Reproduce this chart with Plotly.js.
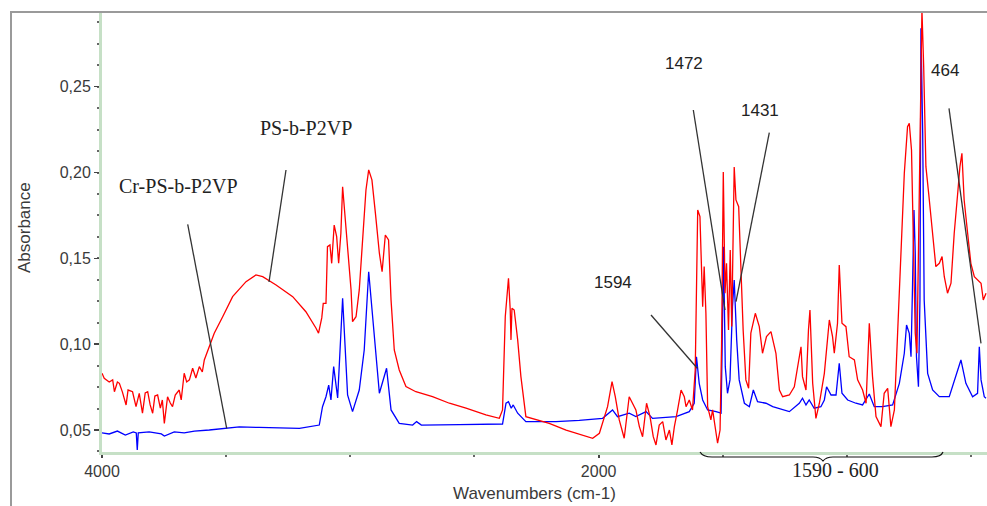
<!DOCTYPE html>
<html>
<head>
<meta charset="utf-8">
<script src="https://cdn.plot.ly/plotly-3.0.1.min.js"></script>
<style>html,body{margin:0;padding:0;background:#fff;}#chart{width:987px;height:506px;}</style>
</head>
<body>
<div id="chart"></div>
<script>
// Cr-PS-b-P2VP (blue)
const blueWn = [4000,3971,3938,3906,3874,3862,3858,3854,3810,3761,3749,3709,3669,3628,3568,3503,3447,3367,3286,3205,3125,3112,3098,3087,3078,3067,3051,3031,3011,2991,2964,2944,2926,2910,2883,2854,2836,2803,2749,2733,2714,2561,2400,2387,2373,2363,2352,2344,2326,2293,2172,2078,1984,1944,1924,1877,1850,1809,1783,1688,1635,1615,1606,1595,1581,1561,1527,1507,1503,1497,1490,1481,1471,1467,1461,1454,1444,1434,1413,1393,1377,1360,1326,1299,1259,1232,1192,1179,1165,1152,1132,1105,1091,1082,1064,1044,1031,1020,997,964,937,910,890,857,816,789,769,760,749,742,736,730,725,720,712,706,702,695,689,675,655,628,588,561,541,521,494,474,467,460,447,440];
const blueAbs = [0.0484,0.0477,0.0494,0.0471,0.0489,0.0483,0.0384,0.0483,0.0489,0.0477,0.0465,0.0489,0.0483,0.0494,0.0500,0.0512,0.0518,0.0515,0.0512,0.0510,0.0529,0.0636,0.0694,0.0762,0.0675,0.0869,0.0687,0.1267,0.0704,0.0607,0.0733,0.0966,0.1422,0.1160,0.0714,0.0860,0.0617,0.0539,0.0529,0.0549,0.0529,0.0532,0.0538,0.0535,0.0656,0.0665,0.0627,0.0646,0.0598,0.0549,0.0549,0.0556,0.0568,0.0617,0.0578,0.0598,0.0578,0.0607,0.0568,0.0578,0.0607,0.0656,0.0927,0.0772,0.0675,0.0617,0.0607,0.0598,0.0947,0.1568,0.0869,0.0714,0.0792,0.1025,0.1218,0.1374,0.1025,0.0792,0.0656,0.0636,0.0733,0.0665,0.0656,0.0636,0.0617,0.0607,0.0656,0.0685,0.0646,0.0675,0.0627,0.0636,0.0675,0.0752,0.0704,0.0704,0.0889,0.0714,0.0675,0.0656,0.0646,0.0710,0.0636,0.0636,0.0646,0.0772,0.0947,0.1112,0.1063,0.0927,0.1335,0.1782,0.1530,0.0927,0.0752,0.1257,0.2840,0.2229,0.1257,0.0830,0.0733,0.0694,0.0694,0.0811,0.0908,0.0772,0.0694,0.0714,0.0985,0.0792,0.0694,0.0685];

// PS-b-P2VP (red)
const redWn = [4000,3991,3971,3957,3950,3938,3930,3918,3903,3895,3877,3863,3850,3837,3826,3816,3806,3796,3787,3776,3765,3757,3749,3743,3736,3725,3716,3705,3689,3681,3669,3659,3648,3635,3622,3608,3596,3588,3568,3548,3514,3474,3420,3380,3353,3299,3232,3179,3138,3128,3115,3109,3098,3092,3082,3075,3065,3055,3047,3038,3031,3017,3007,2997,2991,2977,2964,2951,2937,2926,2913,2899,2883,2872,2859,2846,2836,2823,2803,2776,2736,2669,2601,2534,2454,2400,2387,2376,2363,2356,2353,2349,2340,2326,2313,2293,2266,2199,2131,2065,2024,1997,1964,1946,1933,1917,1897,1877,1850,1836,1823,1807,1793,1780,1769,1756,1742,1729,1715,1705,1695,1682,1668,1655,1648,1635,1622,1611,1606,1601,1592,1581,1575,1568,1561,1548,1541,1527,1521,1511,1505,1498,1491,1485,1477,1470,1464,1454,1447,1436,1427,1418,1407,1396,1387,1369,1353,1340,1324,1306,1286,1272,1259,1232,1212,1199,1185,1179,1165,1155,1149,1138,1125,1111,1091,1071,1058,1051,1038,1031,1020,1004,991,970,957,937,923,910,897,883,863,850,836,823,809,796,782,769,756,749,740,732,725,718,711,703,698,691,682,671,655,642,628,617,608,595,581,568,554,545,537,528,514,501,487,474,460,451,440];
const redAbs = [0.0831,0.0801,0.0780,0.0792,0.0723,0.0780,0.0772,0.0722,0.0646,0.0733,0.0723,0.0636,0.0714,0.0598,0.0716,0.0723,0.0646,0.0598,0.0698,0.0704,0.0628,0.0675,0.0539,0.0617,0.0694,0.0657,0.0636,0.0704,0.0733,0.0675,0.0831,0.0780,0.0792,0.0860,0.0803,0.0869,0.0838,0.0908,0.0986,0.1064,0.1160,0.1277,0.1364,0.1403,0.1393,0.1345,0.1277,0.1189,0.1093,0.1064,0.1153,0.1238,0.1238,0.1568,0.1578,0.1471,0.1694,0.1626,0.1471,0.1646,0.1917,0.1684,0.1471,0.1316,0.1131,0.1160,0.1316,0.1626,0.1898,0.2015,0.1957,0.1763,0.1530,0.1422,0.1636,0.1607,0.1258,0.0966,0.0850,0.0753,0.0723,0.0694,0.0656,0.0627,0.0588,0.0568,0.0617,0.1160,0.1384,0.1199,0.1025,0.1209,0.1199,0.1025,0.0811,0.0578,0.0568,0.0539,0.0500,0.0471,0.0452,0.0481,0.0636,0.0782,0.0694,0.0559,0.0452,0.0694,0.0617,0.0520,0.0461,0.0656,0.0578,0.0461,0.0413,0.0529,0.0549,0.0442,0.0500,0.0413,0.0520,0.0617,0.0733,0.0694,0.0636,0.0675,0.0617,0.0850,0.1316,0.1782,0.1743,0.1218,0.1452,0.1180,0.0636,0.0559,0.0617,0.0481,0.0423,0.0500,0.0986,0.2003,0.1297,0.1471,0.1083,0.1549,0.1103,0.2032,0.1840,0.1801,0.1432,0.1083,0.0792,0.0743,0.1064,0.1180,0.1102,0.0947,0.1044,0.1073,0.0947,0.0733,0.0694,0.0704,0.0752,0.0869,0.0985,0.0811,0.0733,0.1083,0.1199,0.0772,0.0568,0.0656,0.0830,0.1141,0.1044,0.0947,0.1122,0.1461,0.1122,0.1102,0.0927,0.0908,0.0792,0.0733,0.0656,0.1122,0.0811,0.0578,0.0520,0.0714,0.0743,0.0520,0.0617,0.1064,0.1549,0.1996,0.2267,0.2287,0.2131,0.1646,0.1064,0.0947,0.1646,0.2423,0.2947,0.2617,0.2034,0.1879,0.1646,0.1452,0.1471,0.1510,0.1393,0.1297,0.1355,0.1646,0.1879,0.2034,0.2112,0.1840,0.1646,0.1471,0.1393,0.1374,0.1355,0.1258,0.1297];

const xTickVals = [4000, 2000];
const xTickText = ['4000', '2000'];
const yTickVals = [0.05, 0.10, 0.15, 0.20, 0.25];
const yTickText = ['0,05', '0,10', '0,15', '0,20', '0,25'];

// page geometry helpers for decorations (plot area 102..987 x 13..452)
const L = 102, T = 13, W = 885, H = 439;
const pX = x => (x - L) / W;
const pY = y => (T + H - y) / H;

const traces = [
  {x: blueWn, y: blueAbs, type: 'scatter', mode: 'lines', name: 'Cr-PS-b-P2VP',
   line: {color: '#0000ff', width: 1.3}},
  {x: redWn, y: redAbs, type: 'scatter', mode: 'lines', name: 'PS-b-P2VP',
   line: {color: '#ff0000', width: 1.3}}
];

const serif = 'Liberation Serif, Times New Roman, serif';
const sans = 'Liberation Sans, Arial, sans-serif';

function lineShape(x0, y0, x1, y1) {
  return {type: 'line', xref: 'paper', yref: 'paper', x0: pX(x0), y0: pY(y0), x1: pX(x1), y1: pY(y1),
          line: {color: '#333', width: 1.3}};
}
function label(text, x, y, font, size) {
  return {text: text, xref: 'paper', yref: 'paper', x: pX(x), y: pY(y), showarrow: false,
          xanchor: 'center', yanchor: 'middle', font: {family: font, size: size, color: '#222'}};
}
const brace = [[700,452],[703,457],[712,457],[813,457],[820,457],[823,461],[826,457],[833,457],[932,457],[941,457],[943,452]];
const bp = brace.map(p => [pX(p[0]).toFixed(5), pY(p[1]).toFixed(5)]);
const bracePath = `M ${bp[0][0]},${bp[0][1]} Q ${bp[1][0]},${bp[1][1]} ${bp[2][0]},${bp[2][1]} L ${bp[3][0]},${bp[3][1]} Q ${bp[4][0]},${bp[4][1]} ${bp[5][0]},${bp[5][1]} Q ${bp[6][0]},${bp[6][1]} ${bp[7][0]},${bp[7][1]} L ${bp[8][0]},${bp[8][1]} Q ${bp[9][0]},${bp[9][1]} ${bp[10][0]},${bp[10][1]}`;

const layout = {
  width: 987, height: 506,
  margin: {l: L, r: 0, t: T, b: 506 - T - H},
  paper_bgcolor: '#ffffff', plot_bgcolor: '#ffffff',
  showlegend: false, hovermode: false,
  separators: ',.',
  xaxis: {
    range: [4000, 436], showgrid: false, zeroline: false,
    showline: true, linecolor: '#c6e0c6', linewidth: 3,
    tickmode: 'array', tickvals: xTickVals, ticktext: xTickText,
    ticks: 'outside', ticklen: 3, tickwidth: 2, tickcolor: '#444',
    tickfont: {family: sans, size: 16, color: '#3a3a3a'},
    minor: {dtick: 500, tick0: 0, ticks: 'outside', ticklen: 2, tickwidth: 2, tickcolor: '#666', showgrid: false}
  },
  yaxis: {
    range: [0.0372, 0.2929], showgrid: false, zeroline: false,
    showline: true, linecolor: '#c6e0c6', linewidth: 3,
    tickmode: 'array', tickvals: yTickVals, ticktext: yTickText,
    ticks: 'outside', ticklen: 5, tickwidth: 1.5, tickcolor: '#444',
    tickfont: {family: sans, size: 16, color: '#3a3a3a'},
    minor: {dtick: 0.0125, tick0: 0, ticks: 'outside', ticklen: 2, tickwidth: 2, tickcolor: '#666', showgrid: false}
  },
  shapes: [
    {type: 'line', xref: 'paper', yref: 'paper', x0: pX(10), x1: 1, y0: pY(12), y1: pY(12), line: {color: '#9a9a9a', width: 2}},
    {type: 'line', xref: 'paper', yref: 'paper', x0: pX(11), x1: pX(11), y0: pY(12), y1: pY(506), line: {color: '#9a9a9a', width: 2}},
    lineShape(286, 170, 269, 282),
    lineShape(187.7, 224.3, 226.7, 428.3),
    lineShape(693.3, 110, 725, 310),
    lineShape(769.3, 132.7, 736, 301.7),
    lineShape(651, 315, 697.3, 368.3),
    lineShape(949, 108.3, 981, 343.3),
    {type: 'path', xref: 'paper', yref: 'paper', path: bracePath, line: {color: '#111', width: 1.2}}
  ],
  annotations: [
    label('PS-b-P2VP', 306, 128, serif, 20),
    label('Cr-PS-b-P2VP', 178, 186, serif, 20),
    label('1472', 684, 63, sans, 17),
    label('1431', 760, 110, sans, 17),
    label('1594', 613, 282, sans, 17),
    label('464', 945, 70, sans, 17),
    label('1590 - 600', 835, 470, serif, 20),
    {text: 'Wavenumbers (cm-1)', xref: 'paper', yref: 'paper', x: pX(534), y: pY(493), showarrow: false,
     xanchor: 'center', yanchor: 'middle', font: {family: sans, size: 17, color: '#3a3a3a'}},
    {text: 'Absorbance', xref: 'paper', yref: 'paper', x: pX(25), y: pY(228), showarrow: false, textangle: -90,
     xanchor: 'center', yanchor: 'middle', font: {family: sans, size: 17, color: '#3a3a3a'}}
  ]
};

Plotly.newPlot('chart', traces, layout, {displayModeBar: false, staticPlot: true});
</script>
</body>
</html>
